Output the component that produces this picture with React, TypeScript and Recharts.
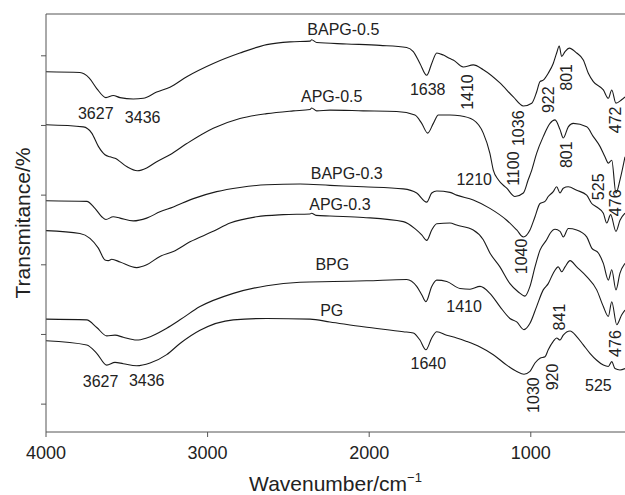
import React from 'react';
import { LineChart, Line, XAxis, YAxis, ReferenceLine, ReferenceDot } from 'recharts';

// wavenumber (cm-1) and transmittance (arbitrary offset units)
const bapg05Wn = [4000, 3790, 3732, 3686, 3629, 3584, 3542, 3460, 3398, 3315, 3233, 3129, 2965, 2800, 2634, 2490, 2366, 2356, 2325, 2139, 1933, 1768, 1727, 1686, 1644, 1613, 1582, 1541, 1500, 1480, 1418, 1356, 1294, 1191, 1108, 1046, 994, 964, 943, 923, 892, 861, 840, 824, 809, 788, 762, 716, 675, 644, 613, 551, 520, 499, 473, 438, 417];
const bapg05T = [5.17, 5.16, 5.08, 4.93, 4.80, 4.83, 4.80, 4.78, 4.79, 4.88, 4.95, 5.10, 5.29, 5.44, 5.56, 5.60, 5.61, 5.63, 5.59, 5.57, 5.55, 5.52, 5.46, 5.29, 5.12, 5.29, 5.44, 5.41, 5.36, 5.34, 5.24, 5.27, 5.20, 5.01, 4.81, 4.68, 4.72, 4.88, 5.03, 5.05, 5.15, 5.29, 5.44, 5.54, 5.39, 5.46, 5.51, 5.44, 5.34, 5.15, 5.03, 4.91, 4.79, 4.91, 4.72, 4.77, 4.81];

const apg05Wn = [4000, 3769, 3717, 3676, 3635, 3604, 3573, 3501, 3435, 3377, 3315, 3233, 3129, 2965, 2800, 2634, 2470, 2366, 2356, 2325, 2243, 2037, 1830, 1717, 1675, 1638, 1603, 1572, 1500, 1438, 1356, 1294, 1253, 1232, 1201, 1149, 1098, 1046, 1016, 994, 964, 923, 881, 850, 819, 799, 768, 737, 654, 613, 572, 541, 520, 499, 473, 448, 417];
const apg05T = [4.41, 4.38, 4.29, 4.10, 3.98, 3.95, 3.93, 3.81, 3.75, 3.79, 3.88, 3.98, 4.14, 4.36, 4.50, 4.57, 4.61, 4.63, 4.65, 4.61, 4.62, 4.61, 4.60, 4.55, 4.43, 4.29, 4.43, 4.55, 4.55, 4.54, 4.48, 4.29, 4.00, 3.76, 3.62, 3.50, 3.38, 3.43, 3.62, 3.76, 4.00, 4.24, 4.43, 4.48, 4.34, 4.22, 4.38, 4.43, 4.38, 4.24, 4.10, 3.95, 3.86, 3.90, 3.43, 3.62, 3.95];

const bapg03Wn = [4000, 3748, 3697, 3655, 3629, 3584, 3542, 3460, 3377, 3295, 3212, 3088, 2944, 2800, 2634, 2428, 2243, 2037, 1789, 1706, 1644, 1613, 1582, 1500, 1459, 1356, 1253, 1149, 1087, 1046, 1005, 974, 943, 912, 892, 861, 840, 819, 799, 768, 716, 654, 623, 592, 551, 530, 506, 473, 448, 417];
const bapg03T = [3.32, 3.31, 3.21, 3.09, 3.05, 3.09, 3.07, 3.03, 3.07, 3.16, 3.23, 3.35, 3.45, 3.51, 3.55, 3.56, 3.54, 3.52, 3.49, 3.43, 3.30, 3.43, 3.46, 3.44, 3.40, 3.33, 3.21, 3.04, 2.90, 2.80, 2.90, 3.09, 3.28, 3.31, 3.38, 3.45, 3.52, 3.43, 3.50, 3.52, 3.47, 3.40, 3.28, 3.23, 3.14, 3.00, 3.12, 2.88, 3.04, 3.14];

const apg03Wn = [4000, 3790, 3728, 3676, 3635, 3614, 3593, 3542, 3439, 3377, 3295, 3212, 3109, 2965, 2861, 2696, 2532, 2366, 2357, 2329, 2243, 2037, 1789, 1717, 1675, 1644, 1613, 1582, 1500, 1459, 1356, 1294, 1253, 1191, 1129, 1077, 1036, 1005, 974, 943, 902, 881, 850, 819, 799, 768, 716, 654, 623, 582, 551, 520, 499, 473, 448, 417];
const apg03T = [2.89, 2.85, 2.78, 2.64, 2.47, 2.46, 2.48, 2.44, 2.36, 2.40, 2.52, 2.59, 2.73, 2.88, 3.00, 3.09, 3.12, 3.13, 3.14, 3.11, 3.10, 3.08, 3.02, 2.92, 2.83, 2.75, 2.90, 2.99, 3.00, 2.97, 2.90, 2.76, 2.57, 2.37, 2.13, 2.01, 1.95, 2.09, 2.37, 2.61, 2.76, 2.85, 2.91, 2.88, 2.80, 2.92, 2.90, 2.80, 2.64, 2.57, 2.42, 2.18, 2.33, 2.04, 2.28, 2.42];

const bpgWn = [4000, 3748, 3686, 3624, 3573, 3522, 3439, 3377, 3253, 3171, 3047, 2841, 2634, 2428, 2222, 2016, 1768, 1706, 1675, 1649, 1613, 1582, 1520, 1438, 1376, 1314, 1253, 1191, 1129, 1087, 1042, 1005, 964, 923, 892, 861, 830, 809, 788, 757, 716, 654, 592, 551, 520, 499, 468, 438, 417];
const bpgT = [1.62, 1.61, 1.50, 1.38, 1.39, 1.36, 1.32, 1.35, 1.49, 1.61, 1.80, 1.99, 2.10, 2.15, 2.16, 2.17, 2.19, 2.09, 1.97, 1.87, 2.09, 2.18, 2.16, 2.06, 2.05, 2.09, 1.99, 1.80, 1.63, 1.58, 1.47, 1.56, 1.80, 2.04, 2.13, 2.28, 2.37, 2.30, 2.37, 2.46, 2.37, 2.23, 2.04, 1.80, 1.66, 1.87, 1.54, 1.68, 1.75];

const pgWn = [4000, 3748, 3686, 3624, 3573, 3522, 3439, 3356, 3253, 3171, 3047, 2841, 2634, 2366, 2243, 2037, 1789, 1727, 1686, 1649, 1613, 1582, 1520, 1459, 1397, 1314, 1232, 1149, 1087, 1042, 1005, 974, 943, 912, 892, 861, 840, 819, 799, 757, 716, 675, 634, 592, 551, 520, 499, 479, 448, 417];
const pgT = [1.31, 1.25, 1.13, 0.96, 1.00, 0.98, 0.95, 0.99, 1.11, 1.27, 1.46, 1.61, 1.63, 1.62, 1.58, 1.51, 1.44, 1.42, 1.32, 1.18, 1.35, 1.44, 1.39, 1.35, 1.30, 1.22, 1.11, 0.96, 0.87, 0.83, 0.87, 0.99, 1.06, 1.08, 1.18, 1.30, 1.35, 1.32, 1.39, 1.45, 1.37, 1.25, 1.13, 1.03, 0.96, 0.94, 1.01, 0.91, 0.89, 0.91];

const xTicks = [4000, 3000, 2000, 1000];
const yTicks = [0.4, 1.4, 2.4, 3.4, 4.4, 5.4];

// annotation text, position in data units, rotated or not
const noteText = ['BAPG-0.5', 'APG-0.5', 'BAPG-0.3', 'APG-0.3', 'BPG', 'PG',
  '3627', '3436', '1638', '1410', '1036', '922', '801', '472',
  '1210', '1100', '801', '525', '476',
  '1040', '1410', '841', '476',
  '1640', '1030', '920', '525', '3627', '3436'];
const noteWn = [2160, 2232, 2139, 2181, 2228, 2232,
  3692, 3402, 1638, 1393, 1077, 892, 778, 476,
  1350, 1108, 778, 582, 476,
  1056, 1413, 824, 476,
  1634, 985, 865, 582, 3662, 3377];
const noteT = [5.78, 4.81, 3.71, 3.27, 2.40, 1.75,
  4.57, 4.52, 4.92, 4.88, 4.36, 4.77, 5.09, 4.48,
  3.62, 3.78, 3.98, 3.52, 3.29,
  2.52, 1.80, 1.65, 1.27,
  0.99, 0.53, 0.79, 0.67, 0.72, 0.74];
const noteRot = [0, 0, 0, 0, 0, 0,
  0, 0, 0, 1, 1, 1, 1, 1,
  0, 1, 1, 1, 1,
  1, 0, 1, 1,
  0, 1, 1, 0, 0, 0];

const toRows = (wn: number[], t: number[]) => wn.map((w, i) => ({ wn: w, t: t[i] }));

const series = [
  { name: 'BAPG-0.5', data: toRows(bapg05Wn, bapg05T) },
  { name: 'APG-0.5', data: toRows(apg05Wn, apg05T) },
  { name: 'BAPG-0.3', data: toRows(bapg03Wn, bapg03T) },
  { name: 'APG-0.3', data: toRows(apg03Wn, apg03T) },
  { name: 'BPG', data: toRows(bpgWn, bpgT) },
  { name: 'PG', data: toRows(pgWn, pgT) },
];

const FONT = '"Liberation Sans", Arial, Helvetica, sans-serif';
const AXIS = '#555';

const XTitle = (props: any) => {
  const { viewBox } = props;
  return (
    <text x={viewBox.x + viewBox.width / 2} y={viewBox.y + 59} textAnchor="middle"
      fontFamily={FONT} fontSize={21} fill="#222">
      Wavenumber/cm<tspan fontSize={13} dy={-9}>−1</tspan>
    </text>
  );
};

const YTitle = (props: any) => {
  const { viewBox } = props;
  const cy = viewBox.y + viewBox.height / 2;
  return (
    <text x={22} y={cy} textAnchor="middle" dominantBaseline="central"
      transform={`rotate(-90, 22, ${cy})`} fontFamily={FONT} fontSize={21} fill="#222">
      Transmitance/%
    </text>
  );
};

export default function App() {
  return (
    <div style={{ position: 'absolute', left: 0, top: 0, background: '#fff' }}>
      <LineChart width={625} height={495} margin={{ top: 14, right: 0, left: 0, bottom: 0 }}>
        <XAxis dataKey="wn" type="number" reversed domain={[417, 4000]} allowDataOverflow
          ticks={xTicks} tickSize={5} tickMargin={9} stroke={AXIS} height={63}
          tick={{ fill: '#222', fontSize: 18, fontFamily: FONT }} label={<XTitle />} />
        <YAxis type="number" domain={[0, 6]} ticks={yTicks} tickSize={5} width={46}
          stroke={AXIS} tickFormatter={() => ''} label={<YTitle />} />
        <ReferenceLine y={6} stroke={AXIS} />
        {series.map((s) => (
          <Line key={s.name} data={s.data} dataKey="t" name={s.name} type="monotone"
            stroke="#1a1a1a" strokeWidth={1.1} dot={false} isAnimationActive={false} />
        ))}
        {noteText.map((txt, i) => (
          <ReferenceDot key={i} x={noteWn[i]} y={noteT[i]} r={0} ifOverflow="visible"
            shape={(p: any) => (
              <text x={p.cx} y={p.cy} textAnchor="middle" dominantBaseline="central"
                transform={noteRot[i] ? `rotate(-90, ${p.cx}, ${p.cy})` : undefined}
                fontFamily={FONT} fontSize={16} fill="#222">{txt}</text>
            )} />
        ))}
      </LineChart>
    </div>
  );
}
